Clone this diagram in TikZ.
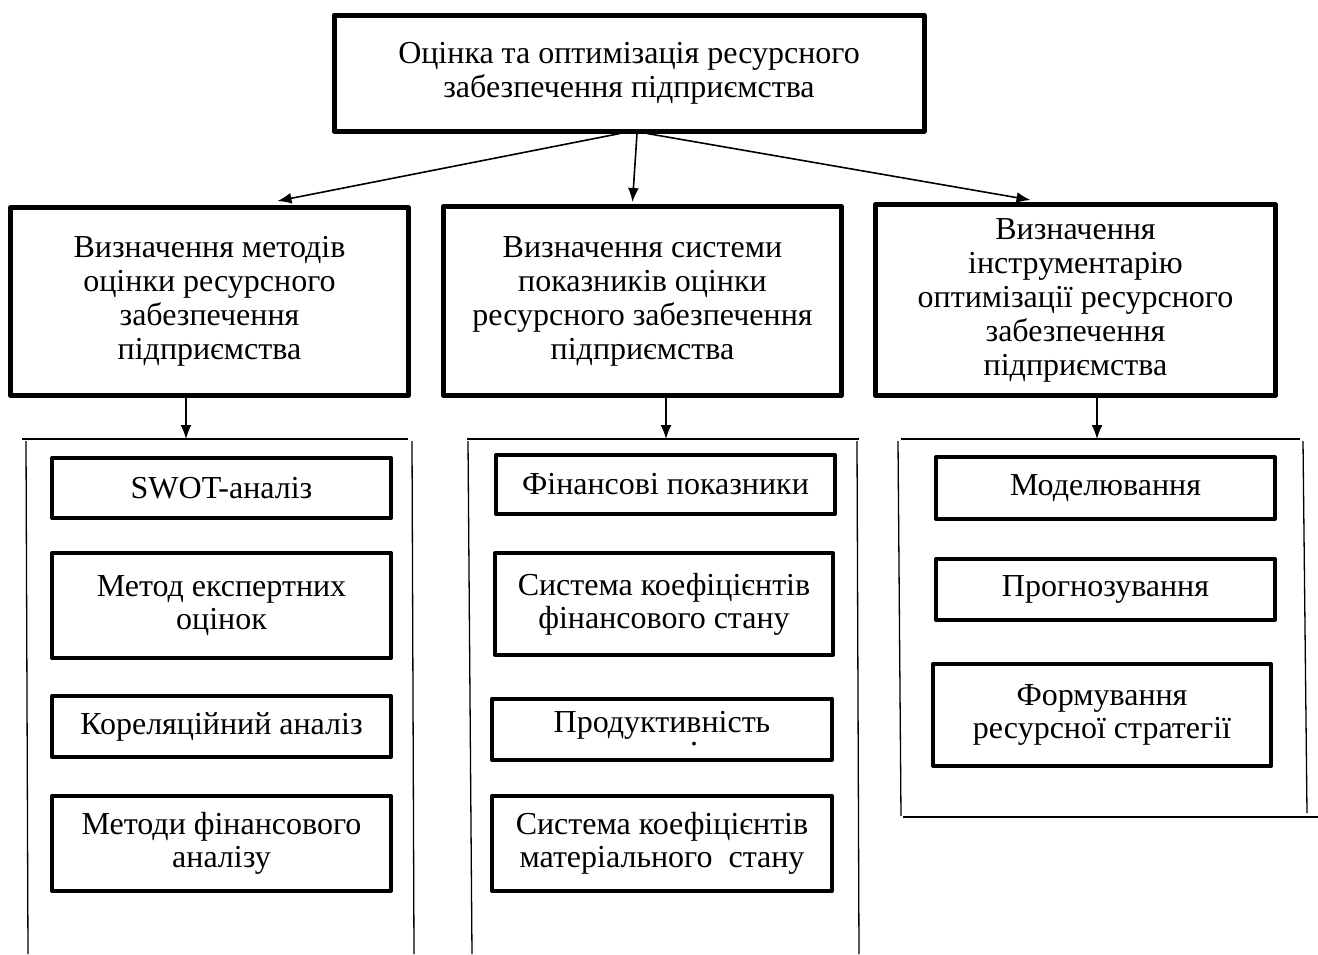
\documentclass[tikz,border=0pt]{standalone}
\usepackage{fontspec}
\setmainfont{Liberation Serif}
\usetikzlibrary{arrows.meta}
\tikzset{>={Latex[length=14pt,width=11pt]}}
\tikzset{
	mainbox/.style={draw, line width=5pt, align=center, inner sep=0pt, line join=round,
		font=\fontsize{32}{34}\selectfont},
	itembox/.style={draw, line width=4pt, align=center, inner sep=0pt, line join=round,
		font=\fontsize{32}{33}\selectfont},
	frameline/.style={line width=1.3pt},
	link/.style={->, line width=1.6pt}
}

\begin{document}
\begin{tikzpicture}[x=1pt,y=-1pt]
		\useasboundingbox (0,0) rectangle (1318,954);
		
		\node[mainbox, minimum width=590pt, minimum height=116pt] (top) at (629,73) {Оцінка та оптимізація ресурсного\\забезпечення підприємства};
		
		\node[mainbox, minimum width=398pt, minimum height=188pt] (meth) at (209.5,301.5) {Визначення методів\\оцінки ресурсного\\забезпечення\\підприємства};
		\node[mainbox, minimum width=398pt, minimum height=189pt] (ind) at (642.5,301) {Визначення системи\\показників оцінки\\ресурсного забезпечення\\підприємства};
		\node[mainbox, minimum width=400pt, minimum height=191pt] (tool) at (1075.5,300) {Визначення\\інструментарію\\оптимізації ресурсного\\забезпечення\\підприємства};
		
		\draw[link] ([xshift=-9pt]top.south) -- ([xshift=68pt,yshift=4pt]meth.north);
		\draw[link] ([xshift=8pt]top.south) -- ([xshift=-10pt,yshift=2pt]ind.north);
		\draw[link] ([xshift=18pt]top.south) -- ([xshift=-45pt,yshift=2pt]tool.north);
		
		\coordinate (methIn) at (186,439);
		\coordinate (indIn) at (666,439);
		\coordinate (toolIn) at (1097,439);
		\draw[link] (meth.south -| methIn) -- (methIn);
		\draw[link] (ind.south -| indIn) -- (indIn);
		\draw[link] (tool.south -| toolIn) -- (toolIn);
		
		\draw[frameline] (22,439) -- (408,439);
		\draw[frameline] (26,441) -- (28,954);
		\draw[frameline] (412,441) -- (414,954);
		
		\draw[frameline] (467,439) -- (859,439);
		\draw[frameline] (468,441) -- (472,954);
		\draw[frameline] (857,441) -- (859,954);
		
		\draw[frameline] (901,439) -- (1300,439);
		\draw[frameline] (898,441) -- (901,816);
		\draw[frameline] (1303,441) -- (1307,813);
		\draw[frameline] (903,817) -- (1318,817);
		
		\node[itembox, minimum width=339pt, minimum height=60pt] (swot) at (221.5,488) {SWOT-аналіз};
		\node[itembox, minimum width=339pt, minimum height=105pt] (expert) at (221.5,605.5) {Метод експертних\\оцінок};
		\node[itembox, minimum width=339pt, minimum height=61pt] (corr) at (221.5,726.5) {Кореляційний аналіз};
		\node[itembox, minimum width=339pt, minimum height=95pt] (finan) at (221.5,843.5) {Методи фінансового\\аналізу};
		
		\node[itembox, minimum width=339pt, minimum height=59pt] (finind) at (665.5,484.5) {Фінансові показники};
		\node[itembox, minimum width=338pt, minimum height=102pt] (finsys) at (664,604) {Система коефіцієнтів\\фінансового стану};
		\node[itembox, minimum width=340pt, minimum height=61pt] (prod) at (662,729) {Продуктивність\\[-20pt]\hspace*{64pt}.};
		\node[itembox, minimum width=340pt, minimum height=95pt] (matsys) at (662,843.5) {Система коефіцієнтів\\матеріального~~стану};
		
		\node[itembox, minimum width=339pt, minimum height=62pt] (model) at (1105.5,488) {Моделювання};
		\node[itembox, minimum width=339pt, minimum height=61pt] (fcst) at (1105.5,589.5) {Прогнозування};
		\node[itembox, minimum width=338pt, minimum height=102pt] (strat) at (1102,715) {Формування\\ресурсної стратегії};
	\end{tikzpicture}
\end{document}
